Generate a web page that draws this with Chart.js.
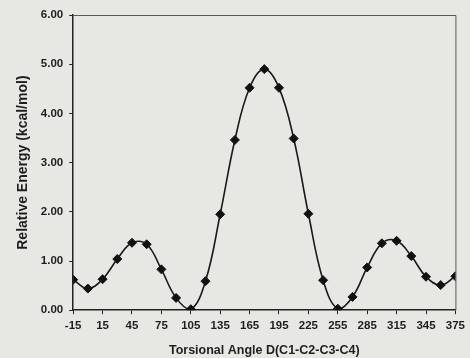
<!DOCTYPE html>
<html>
<head>
<meta charset="utf-8">
<script src="https://cdn.jsdelivr.net/npm/chart.js@4.4.1/dist/chart.umd.min.js"></script>
<style>
  html, body { margin: 0; padding: 0; background: #e7e8e4; }
  #wrap { width: 470px; height: 358px; }
</style>
</head>
<body>
<div id="wrap"><canvas id="energy_chart" width="470" height="358"></canvas></div>
<script>
// torsion scan, every 15 degrees
var angles = [-15, 0, 15, 30, 45, 60, 75, 90, 105, 120, 135, 150, 165, 180, 195,
              210, 225, 240, 255, 270, 285, 300, 315, 330, 345, 360, 375];
var energies = [0.62, 0.44, 0.63, 1.04, 1.37, 1.34, 0.83, 0.25, 0.02, 0.59, 1.95, 3.46, 4.52, 4.90, 4.52,
                3.49, 1.96, 0.61, 0.03, 0.27, 0.87, 1.36, 1.41, 1.10, 0.68, 0.51, 0.69];
var xTicks = [-15, 15, 45, 75, 105, 135, 165, 195, 225, 255, 285, 315, 345, 375];
var yTicks = [0, 1, 2, 3, 4, 5, 6];

var frame = {
  id: 'frame',
  beforeDatasetsDraw: function(chart) {
    var a = chart.chartArea, ctx = chart.ctx;
    ctx.save();
    ctx.strokeStyle = '#5a5a58';
    ctx.lineWidth = 1;
    ctx.beginPath();
    ctx.moveTo(a.left, a.top + 0.5);
    ctx.lineTo(a.right + 0.5, a.top + 0.5);
    ctx.lineTo(a.right + 0.5, a.bottom);
    ctx.stroke();
    ctx.restore();
  }
};

var points = [];
for (var i = 0; i < angles.length; i++) {
  points.push({x: angles[i], y: energies[i]});
}

Chart.defaults.font.family = '"Liberation Sans", Arial, sans-serif';
Chart.defaults.color = '#1e1e1e';

var chart = new Chart(document.getElementById("energy_chart").getContext("2d"), {
  type: "line",
  data: {
    datasets: [{
      label: "Relative Energy",
      data: points,
      borderColor: '#1a1a1a',
      borderWidth: 1.6,
      tension: 0.4,
      fill: false,
      pointStyle: 'rectRot',
      pointRadius: 4.5,
      pointBackgroundColor: '#111',
      pointBorderColor: '#111',
      pointBorderWidth: 1
    }]
  },
  options: {
    responsive: false,
    animation: false,
    layout: { padding: { left: 15, right: 7, top: 15, bottom: 0 } },
    plugins: { legend: { display: false }, tooltip: { enabled: false } },
    scales: {
      x: {
        type: 'linear',
        min: -15,
        max: 375,
        afterBuildTicks: function(axis) {
          axis.ticks = xTicks.map(function(v) { return {value: v}; });
        },
        ticks: { font: { size: 11.5, weight: 'bold' }, maxRotation: 0, autoSkip: false, padding: 5 },
        grid: { display: true, drawOnChartArea: false, drawTicks: true, tickLength: 4, color: '#222' },
        border: { color: '#222', width: 1.5 },
        title: { display: true, text: 'Torsional Angle D(C1-C2-C3-C4)', font: { size: 12.5, weight: 'bold' }, padding: { top: 5, bottom: 0 } }
      },
      y: {
        min: 0,
        max: 6,
        afterBuildTicks: function(axis) {
          axis.ticks = yTicks.map(function(v) { return {value: v}; });
        },
        ticks: {
          font: { size: 11.5, weight: 'bold' },
          padding: 6,
          callback: function(v) { return v.toFixed(2); }
        },
        grid: { display: true, drawOnChartArea: false, drawTicks: true, tickLength: 4, color: '#222' },
        border: { color: '#222', width: 1.5 },
        title: { display: true, text: 'Relative Energy (kcal/mol)', font: { size: 14, weight: 'bold' }, padding: { top: 0, bottom: 3 } }
      }
    }
  },
  plugins: [frame]
});
</script>
</body>
</html>
